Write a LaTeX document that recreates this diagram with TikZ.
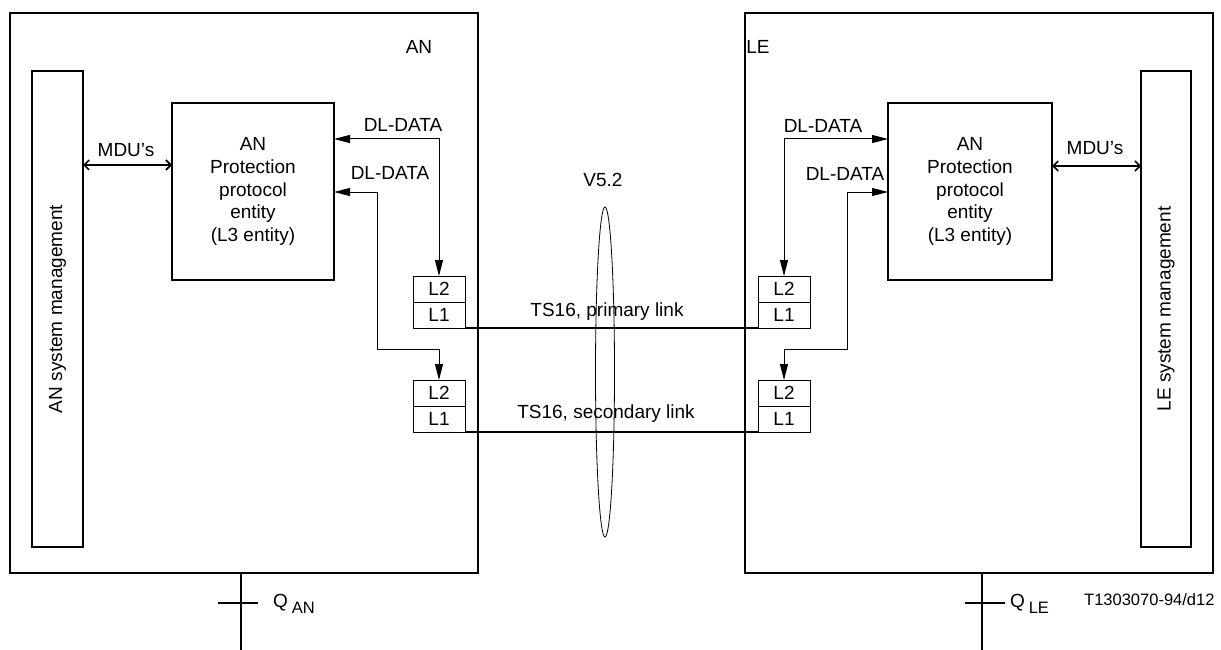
\documentclass[tikz,border=0pt]{standalone}
\usepackage{fontspec}
\setmainfont{Liberation Sans}
\usetikzlibrary{arrows.meta,shapes.geometric}
\begin{document}
\begin{tikzpicture}[x=1pt,y=-1pt,
  box/.style={draw, line width=1.1pt, inner sep=0pt, outer sep=0pt},
  lbox/.style={box, line width=0.9pt, minimum width=52pt, minimum height=26pt, font=\fontsize{19}{19}\selectfont},
  txt/.style={inner sep=0pt, outer sep=0pt, font=\fontsize{19}{19}\selectfont},
  dl/.style={line width=1pt, {Triangle[length=16pt,width=8pt]}-{Triangle[length=16pt,width=8pt]}},
  mdu/.style={line width=1.6pt, {Straight Barb[length=5pt,width=10pt]}-{Straight Barb[length=5pt,width=10pt]}},
  link/.style={line width=1.8pt},
  qline/.style={line width=1.6pt}]
\useasboundingbox (0,0) rectangle (1221,650);

% outer boxes
\node[box, minimum width=468pt, minimum height=560pt] (anbox) at (244,293) {};
\node[box, minimum width=468pt, minimum height=560pt] (lebox) at (979,293) {};
\node[txt, anchor=base] (anlab) at (419,54) {AN};
\node[txt, anchor=base] (lelab) at (758,54) {LE};

% system management
\node[box, minimum width=51pt, minimum height=476pt] (ansm) at (57.5,309) {};
\node[txt, rotate=90] (ansmt) at (ansm.center) {AN system management};
\node[box, minimum width=50pt, minimum height=476pt] (lesm) at (1166,309) {};
\node[txt, rotate=90] (lesmt) at (lesm.center) {LE system management};

% protection entities
\node[box, minimum width=162pt, minimum height=177pt, align=center,
      font=\fontsize{19}{22.75}\selectfont] (anpe) at (253,191.5)
      {AN\\Protection\\protocol\\entity\\(L3 entity)};
\node[box, minimum width=164pt, minimum height=177pt, align=center,
      font=\fontsize{19}{22.75}\selectfont] (lepe) at (970,191.5)
      {AN\\Protection\\protocol\\entity\\(L3 entity)};

% L2/L1 boxes
\node[lbox] (anL2a) at (439,289) {L2};
\node[lbox] (anL1a) at (439,315) {L1};
\node[lbox] (anL2b) at (439,393) {L2};
\node[lbox] (anL1b) at (439,419) {L1};
\node[lbox] (leL2a) at (784,289) {L2};
\node[lbox] (leL1a) at (784,315) {L1};
\node[lbox] (leL2b) at (784,393) {L2};
\node[lbox] (leL1b) at (784,419) {L1};

% MDU arrows
\draw[mdu] (ansm.east |- 0,165) -- (anpe.west |- 0,165);
\node[txt, anchor=base] (mdul) at (126,157) {MDU's};
\draw[mdu] (lepe.east |- 0,166) -- (lesm.west |- 0,166);
\node[txt, anchor=base] (mdur) at (1095,155) {MDU's};

% DL-DATA connectors
\coordinate (bl) at (377,349);
\coordinate (br) at (847,349);
\draw[dl] (anpe.east |- 0,139) -| (anL2a.north);
\draw[dl] (anpe.east |- 0,192) -| (bl) -| (anL2b.north);
\draw[dl] (lepe.west |- 0,139) -| (leL2a.north);
\draw[dl] (lepe.west |- 0,192) -| (br) -| (leL2b.north);
\node[txt, anchor=base] (dl1) at (403,132) {DL-DATA};
\node[txt, anchor=base] (dl2) at (390,179) {DL-DATA};
\node[txt, anchor=base] (dl3) at (823,133) {DL-DATA};
\node[txt, anchor=base] (dl4) at (845,181) {DL-DATA};

% links
\draw[link] (anL1a.south east) -- (leL1a.south west);
\draw[link] (anL1b.south east) -- (leL1b.south west);
\node[txt, anchor=base] (ts1) at (607,316) {TS16, primary link};
\node[txt, anchor=base] (ts2) at (606,418) {TS16, secondary link};

% V5.2 ellipse
\node[draw, ellipse, line width=0.8pt, inner sep=0pt, minimum width=19pt, minimum height=330pt] (v52e) at (605,372) {};
\node[txt, anchor=base] (v52) at (603,186) {V5.2};

% Q interfaces
\coordinate (qan) at (241,650);
\coordinate (qle) at (982,650);
\draw[qline] (anbox.south -| qan) -- (qan);
\draw[qline] (lebox.south -| qle) -- (qle);
\draw[qline] (218,603) -- (258,603);
\draw[qline] (965,603) -- (1005,603);
\node[txt, anchor=base west] (qanl) at (273,607) {Q\hspace{4pt}\raisebox{-6pt}{\fontsize{16.5}{16.5}\selectfont AN}};
\node[txt, anchor=base west] (qlel) at (1010,607) {Q\hspace{4pt}\raisebox{-6pt}{\fontsize{16.5}{16.5}\selectfont LE}};
\node[inner sep=0pt, anchor=base west, font=\fontsize{16.5}{16.5}\selectfont] (code) at (1084,605) {T1303070-94/d12};
\end{tikzpicture}
\end{document}
